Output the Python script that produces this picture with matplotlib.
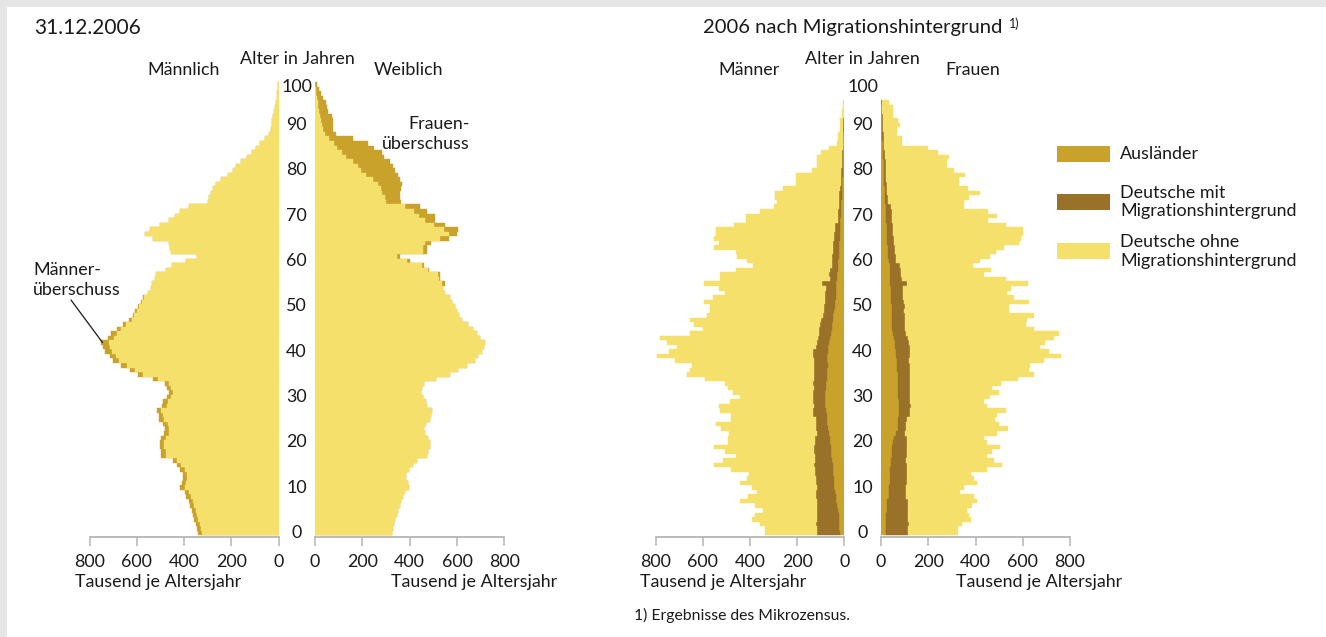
import numpy as np
import matplotlib.pyplot as plt
from matplotlib.patches import Rectangle
from matplotlib import transforms

plt.rcParams['font.family'] = ['Lato', 'DejaVu Sans']

# --- Bevoelkerung 31.12.2006, Tausend je Altersjahr (Alter 0..99)
maennlich = [340, 346, 350, 356, 362, 367, 374, 380, 390, 398,
             418, 411, 405, 405, 418, 432, 449, 496, 498, 503,
             503, 496, 484, 481, 490, 505, 508, 516, 492, 488,
             473, 465, 472, 482, 533, 594, 630, 665, 702, 715,
             736, 744, 752, 724, 708, 686, 658, 632, 618, 606,
             594, 584, 573, 552, 540, 535, 523, 520, 478, 452,
             390, 347, 456, 458, 463, 530, 565, 545, 502, 463,
             440, 418, 380, 300, 295, 285, 278, 265, 245, 215,
             195, 182, 160, 132, 112, 95, 80, 58, 42, 34,
             28, 26, 22, 18, 14, 11, 8, 6, 4, 2]
weiblich = [325, 330, 334, 340, 345, 350, 357, 362, 372, 380,
            398, 392, 386, 386, 398, 412, 430, 475, 478, 484,
            484, 478, 466, 462, 470, 486, 488, 496, 472, 468,
            455, 447, 454, 462, 512, 572, 606, 640, 676, 690,
            706, 713, 718, 696, 684, 668, 645, 622, 610, 600,
            590, 580, 570, 551, 542, 548, 530, 530, 482, 460,
            402, 360, 473, 473, 490, 568, 600, 603, 551, 508,
            508, 473, 445, 362, 358, 360, 362, 367, 360, 352,
            340, 331, 318, 290, 282, 250, 225, 160, 89, 78,
            75, 75, 72, 55, 50, 47, 33, 25, 17, 8]

# --- 2006 nach Migrationshintergrund (Mikrozensus), Alter 0..95
maenner_gesamt = [338, 338, 357, 391, 377, 344, 377, 443, 409, 372,
                  391, 443, 412, 405, 481, 553, 514, 461, 504, 553,
                  494, 491, 490, 523, 543, 481, 481, 525, 532, 483,
                  443, 472, 494, 504, 589, 667, 656, 646, 717, 792,
                  741, 707, 750, 781, 653, 599, 636, 656, 582, 568,
                  568, 594, 557, 504, 532, 596, 528, 525, 461, 386,
                  412, 454, 461, 553, 532, 551, 542, 542, 466, 417,
                  417, 357, 298, 284, 295, 295, 262, 206, 206, 206,
                  139, 117, 117, 117, 97, 64, 32, 28, 28, 20,
                  17, 17, 11, 11, 6, 4]
maenner_auslaender = [20, 21, 22, 22, 24, 25, 32, 35, 37, 38,
                      42, 44, 46, 47, 48, 50, 54, 56, 57, 58,
                      60, 62, 66, 70, 72, 74, 75, 78, 82, 83,
                      84, 83, 80, 76, 74, 72, 72, 71, 72, 72,
                      70, 68, 66, 62, 56, 54, 52, 50, 48, 45,
                      40, 38, 37, 36, 35, 34, 32, 30, 28, 27,
                      25, 24, 23, 23, 22, 20, 19, 19, 18, 17,
                      15, 14, 13, 13, 12, 12, 11, 10, 9, 8,
                      8, 7, 7, 6, 6, 5, 5, 4, 4, 3,
                      3, 3, 2, 2, 2, 1]
maenner_mit_mh = [95, 96, 97, 95, 94, 92, 82, 80, 85, 84,
                  76, 75, 74, 76, 75, 80, 72, 70, 71, 72,
                  64, 63, 52, 50, 49, 48, 56, 57, 48, 49,
                  47, 48, 50, 57, 55, 56, 56, 57, 56, 63,
                  62, 53, 50, 50, 50, 52, 53, 50, 44, 43,
                  45, 46, 45, 46, 45, 62, 30, 34, 33, 24,
                  27, 27, 26, 27, 26, 23, 23, 22, 22, 12,
                  12, 12, 11, 11, 10, 10, 9, 6, 6, 5,
                  5, 4, 4, 4, 4, 3, 3, 2, 2, 2,
                  2, 1, 1, 1, 1, 1]
frauen_gesamt = [325, 325, 343, 379, 372, 362, 386, 407, 393, 336,
                 353, 407, 393, 379, 450, 514, 478, 447, 471, 504,
                 450, 438, 490, 538, 500, 481, 490, 528, 447, 436,
                 461, 500, 471, 507, 578, 646, 627, 632, 691, 762,
                 712, 674, 694, 734, 755, 649, 613, 620, 649, 542,
                 542, 627, 563, 535, 552, 623, 528, 438, 467, 390,
                 421, 461, 485, 521, 584, 592, 599, 603, 528, 452,
                 492, 452, 350, 350, 371, 418, 367, 329, 329, 357,
                 311, 280, 280, 286, 240, 197, 88, 88, 67, 67,
                 81, 74, 51, 51, 50, 35]
frauen_auslaender = [20, 21, 22, 22, 23, 24, 25, 27, 32, 34,
                     35, 36, 37, 38, 40, 42, 43, 45, 46, 47,
                     50, 55, 65, 70, 72, 74, 75, 75, 76, 76,
                     74, 74, 73, 72, 70, 70, 68, 68, 66, 64,
                     62, 60, 58, 55, 50, 48, 47, 46, 45, 45,
                     45, 44, 44, 43, 42, 40, 39, 38, 37, 36,
                     32, 30, 29, 28, 27, 26, 25, 24, 24, 23,
                     22, 21, 20, 17, 16, 15, 15, 14, 13, 13,
                     12, 12, 11, 10, 10, 8, 7, 6, 6, 5,
                     5, 4, 4, 3, 3, 2]
frauen_mit_mh = [95, 94, 95, 93, 92, 90, 88, 86, 74, 73,
                 72, 74, 73, 72, 70, 66, 64, 63, 64, 62,
                 60, 55, 38, 36, 35, 36, 48, 49, 50, 48,
                 49, 50, 50, 52, 53, 52, 54, 53, 54, 60,
                 61, 62, 60, 58, 55, 54, 55, 56, 55, 54,
                 55, 53, 50, 51, 50, 70, 50, 48, 47, 46,
                 33, 32, 32, 31, 30, 27, 27, 26, 26, 25,
                 25, 24, 24, 12, 12, 11, 11, 11, 10, 10,
                 10, 9, 9, 8, 8, 6, 6, 5, 5, 5,
                 4, 4, 3, 3, 2, 2]

GELB = '#f4e06b'
GOLD = '#c9a22c'
BRAUN = '#9a7128'
GRAU = '#b5b5b5'
TEXT = '#1a1a1a'
FS = 12.9

W, H = 1326, 637
fig = plt.figure(figsize=(W / 100, H / 100), dpi=100)
fig.patch.set_facecolor('#e6e6e6')
fig.add_artist(Rectangle((7 / W, 0), 1, (H - 7) / H, transform=fig.transFigure,
                         facecolor='white', edgecolor='none', zorder=-5))

Y_TOP, Y_BOT = 77.6, 537


def neue_achse(x_links, x_rechts, gespiegelt):
    ax = fig.add_axes([x_links / W, 1 - Y_BOT / H, (x_rechts - x_links) / W, (Y_BOT - Y_TOP) / H])
    ax.set_xlim((800, 0) if gespiegelt else (0, 800))
    ax.set_ylim(-0.9, 100.5)
    for s in ['top', 'left', 'right']:
        ax.spines[s].set_visible(False)
    ax.spines['bottom'].set_color(GRAU)
    ax.spines['bottom'].set_linewidth(1.3)
    ax.set_xticks([0, 200, 400, 600, 800])
    ax.tick_params(axis='x', colors=GRAU, length=6.5, width=1.1, labelsize=FS,
                   labelcolor=TEXT, pad=6)
    ax.set_yticks([])
    ax.patch.set_alpha(0)
    return ax


def ftext(x, y, s, **kw):
    kw.setdefault('color', TEXT)
    kw.setdefault('va', 'center')
    kw.setdefault('fontsize', FS)
    fig.text(x / W, 1 - y / H, s, **kw)


def balken(ax, alter, werte, farbe, links=None):
    ax.barh(alter, werte, left=links, height=1.0, color=farbe, edgecolor=farbe, linewidth=0.3)


# ---------- linke Pyramide
alter1 = np.arange(len(maennlich))
m = np.array(maennlich)
f = np.array(weiblich)
basis = np.minimum(m, f)

ax_m1 = neue_achse(89.6, 278.6, True)
ax_f1 = neue_achse(315, 504.4, False)
balken(ax_m1, alter1, m, GOLD)
balken(ax_m1, alter1, basis, GELB)
balken(ax_f1, alter1, f, GOLD)
balken(ax_f1, alter1, basis, GELB)

# ---------- rechte Pyramide
alter2 = np.arange(len(maenner_gesamt))
ax_m2 = neue_achse(655.5, 844.4, True)
ax_f2 = neue_achse(881, 1070, False)
for ax, ges, aus, mit in [(ax_m2, maenner_gesamt, maenner_auslaender, maenner_mit_mh),
                          (ax_f2, frauen_gesamt, frauen_auslaender, frauen_mit_mh)]:
    ges = np.array(ges)
    aus = np.array(aus)
    mit = np.array(mit)
    balken(ax, alter2, aus, GOLD)
    balken(ax, alter2, mit, BRAUN, links=aus)
    balken(ax, alter2, ges - aus - mit, GELB, links=aus + mit)

# Altersbeschriftung in der Mitte
for ax, xm in [(ax_m1, 296.5), (ax_m2, 862.5)]:
    tr = transforms.blended_transform_factory(fig.transFigure, ax.transData)
    for a in range(0, 91, 10):
        fig.text(xm / W, a, str(a), transform=tr, ha='center', va='center', fontsize=FS, color=TEXT)
    fig.text(xm / W, 98.4, '100', transform=tr, ha='center', va='center', fontsize=FS, color=TEXT)

# Titel und Beschriftungen
ftext(34, 28, '31.12.2006', fontsize=15)
ftext(703, 28, '2006 nach Migrationshintergrund', fontsize=14.6)
ftext(1009, 24, '1)', fontsize=9)

ftext(184, 70, 'Männlich', ha='center')
ftext(297, 59, 'Alter in Jahren', ha='center')
ftext(408, 70, 'Weiblich', ha='center')
ftext(749, 70, 'Männer', ha='center')
ftext(862, 59, 'Alter in Jahren', ha='center')
ftext(973, 70, 'Frauen', ha='center')

ftext(75, 582, 'Tausend je Altersjahr', ha='left')
ftext(557, 582, 'Tausend je Altersjahr', ha='right')
ftext(640, 582, 'Tausend je Altersjahr', ha='left')
ftext(1122, 582, 'Tausend je Altersjahr', ha='right')

ftext(470, 134, 'Frauen-\nüberschuss', ha='right', multialignment='right', linespacing=1.25)
ftext(33, 280, 'Männer-\nüberschuss', ha='left', multialignment='left', linespacing=1.25)
ax_m1.annotate('', xy=(745, 42), xycoords='data', xytext=(71, H - 300), textcoords='figure pixels',
               arrowprops=dict(arrowstyle='-', color=TEXT, lw=0.9, shrinkA=0, shrinkB=0))

ftext(634, 615, '1) Ergebnisse des Mikrozensus.', fontsize=11.3, ha='left')

# Legende
legende = [(GOLD, 154, 'Ausländer'),
           (BRAUN, 202, 'Deutsche mit\nMigrationshintergrund'),
           (GELB, 251.5, 'Deutsche ohne\nMigrationshintergrund')]
for farbe, yc, txt in legende:
    fig.add_artist(Rectangle((1057 / W, 1 - (yc + 8) / H), 53 / W, 16 / H, transform=fig.transFigure,
                             facecolor=farbe, edgecolor='none'))
    ftext(1120, yc, txt, ha='left', linespacing=1.2)

fig.savefig('out.png', dpi=100, facecolor=fig.get_facecolor())
